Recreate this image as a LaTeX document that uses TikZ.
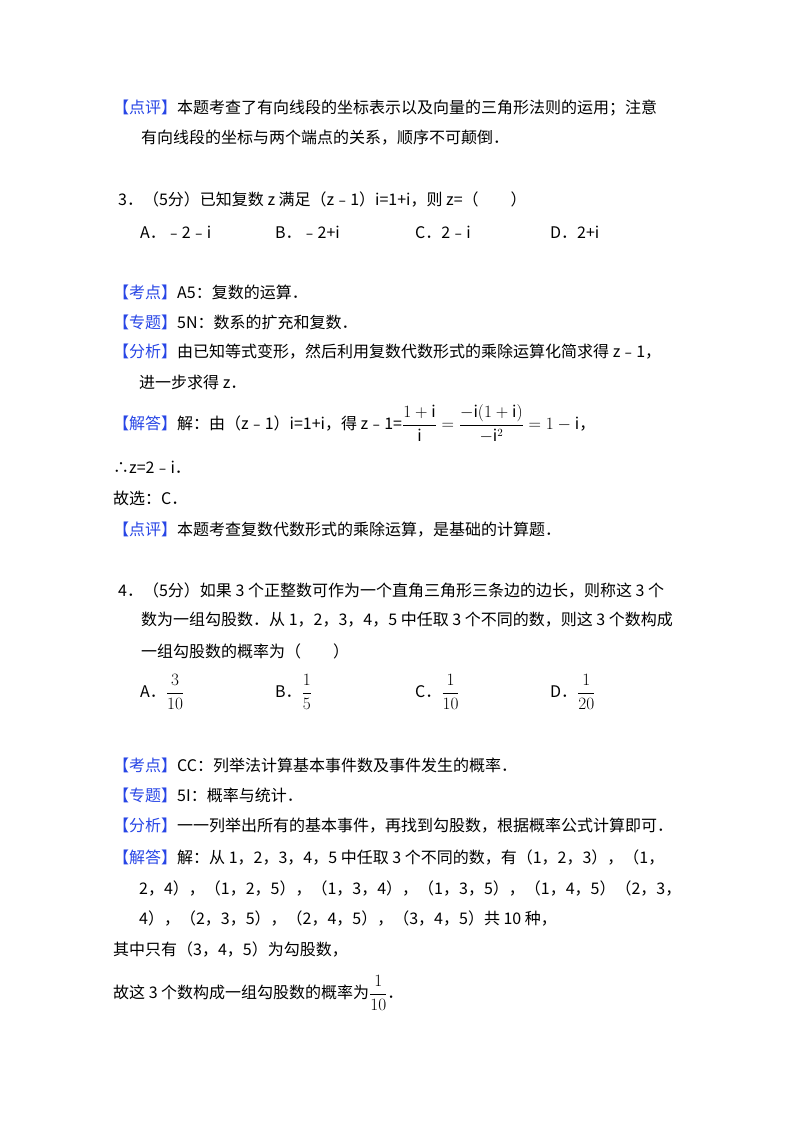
\documentclass[tikz,border=0pt]{standalone}
\usepackage{fontspec}
\setmainfont{Noto Sans CJK SC}
\begin{document}
\begin{tikzpicture}[x=1pt,y=-1pt,
  t/.style={anchor=west,inner sep=0pt,font=\fontsize{16}{18}\selectfont}]
\useasboundingbox[fill=white] (0,0) rectangle (800,1132);
\definecolor{tb}{RGB}{40,70,230}
\newcommand{\tg}[1]{\textcolor{tb}{【#1】}}
\newcommand{\fr}[2]{$\displaystyle\frac{#1}{#2}$}
\node[t] (l1) at (113,108) {\tg{点评}本题考查了有向线段的坐标表示以及向量的三角形法则的运用；注意};
\node[t] (l2) at (141,138) {有向线段的坐标与两个端点的关系，顺序不可颠倒．};
\node[t] (q3) at (118,200) {3．（5分）已知复数 z 满足（z﹣1）i=1+i，则 z=（　　）};
\node[t] (a3) at (140,232) {A．﹣2﹣i};
\node[t] (b3) at (275,232) {B．﹣2+i};
\node[t] (c3) at (415,232) {C．2﹣i};
\node[t] (d3) at (550,232) {D．2+i};
\node[t] (k3) at (113,292) {\tg{考点}A5：复数的运算．};
\node[t] (z3) at (113,322) {\tg{专题}5N：数系的扩充和复数．};
\node[t] (f3) at (113,352) {\tg{分析}由已知等式变形，然后利用复数代数形式的乘除运算化简求得 z﹣1，};
\node[t] (f3b) at (139,382) {进一步求得 z．};
\node[t] (j3) at (113,424) {\tg{解答}解：由（z﹣1）i=1+i，得 z﹣1=$\displaystyle\frac{1+\mathrm{i}}{\mathrm{i}}=\frac{-\mathrm{i}(1+\mathrm{i})}{-\mathrm{i}^2}=1-\mathrm{i}$，};
\node[t] (s3) at (113,467) {∴z=2﹣i．};
\node[t] (x3) at (113,498) {故选：C．};
\node[t] (p3) at (113,530) {\tg{点评}本题考查复数代数形式的乘除运算，是基础的计算题．};
\node[t] (q4) at (118,591) {4．（5分）如果 3 个正整数可作为一个直角三角形三条边的边长，则称这 3 个};
\node[t] (q4b) at (141,620) {数为一组勾股数．从 1，2，3，4，5 中任取 3 个不同的数，则这 3 个数构成};
\node[t] (q4c) at (141,651) {一组勾股数的概率为（　　）};
\node[t] (a4) at (140,692) {A．\fr{3}{10}};
\node[t] (b4) at (275,692) {B．\fr{1}{5}};
\node[t] (c4) at (415,692) {C．\fr{1}{10}};
\node[t] (d4) at (550,692) {D．\fr{1}{20}};
\node[t] (k4) at (113,765) {\tg{考点}CC：列举法计算基本事件数及事件发生的概率．};
\node[t] (z4) at (113,795) {\tg{专题}5I：概率与统计．};
\node[t] (f4) at (113,826) {\tg{分析}一一列举出所有的基本事件，再找到勾股数，根据概率公式计算即可．};
\node[t] (j4) at (113,857) {\tg{解答}解：从 1，2，3，4，5 中任取 3 个不同的数，有（1，2，3），（1，};
\node[t] (j4b) at (139,888) {2，4），（1，2，5），（1，3，4），（1，3，5），（1，4，5）（2，3，};
\node[t] (j4c) at (139,918) {4），（2，3，5），（2，4，5），（3，4，5）共 10 种，};
\node[t] (j4d) at (113,949) {其中只有（3，4，5）为勾股数，};
\node[t] (j4e) at (113,993) {故这 3 个数构成一组勾股数的概率为\fr{1}{10}．};
\end{tikzpicture}
\end{document}
